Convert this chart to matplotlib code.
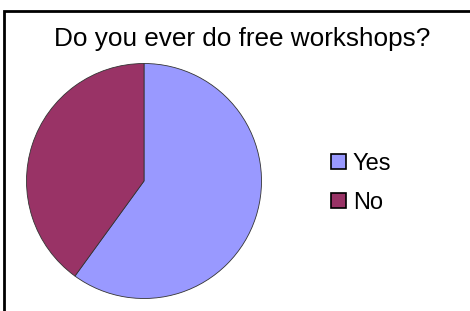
import matplotlib.pyplot as plt
from matplotlib.patches import Rectangle, Patch

labels = ["Yes", "No"]
values = [60, 40]
colors = ["#9999FF", "#993366"]
title = "Do you ever do free workshops?"

W, H = 470, 311
fig = plt.figure(figsize=(W / 100, H / 100), dpi=100)
plt.rcParams['font.family'] = ['Liberation Sans', 'DejaVu Sans']

# outer chart frame (runs off the right and bottom edge)
fig.patches.append(Rectangle((4 / W, -0.1), 1.2, 1 - 11 / H + 0.1,
                             transform=fig.transFigure, fill=False,
                             edgecolor="black", linewidth=2))

fig.text(242 / W, 1 - 39 / H, title, ha="center", va="center", fontsize=18.8)

cx, cy, r = 144, 181, 117.5
ax = fig.add_axes([(cx - r) / W, (H - cy - r) / H, 2 * r / W, 2 * r / H])
ax.pie(values, colors=colors, startangle=90, counterclock=False,
       wedgeprops=dict(edgecolor="#333333", linewidth=0.6))
ax.set_xlim(-1, 1)
ax.set_ylim(-1, 1)
ax.set_aspect("equal")
ax.axis("off")

handles = [Patch(facecolor=c, edgecolor="black", linewidth=1.2) for c in colors]
fig.legend(handles, labels, loc="upper left", bbox_to_anchor=(331 / W, 1 - 153 / H),
           frameon=False, fontsize=17, handlelength=0.62, handleheight=0.62,
           handletextpad=0.3, labelspacing=0.7, borderpad=0, borderaxespad=0)

fig.savefig("out.png", dpi=100)
